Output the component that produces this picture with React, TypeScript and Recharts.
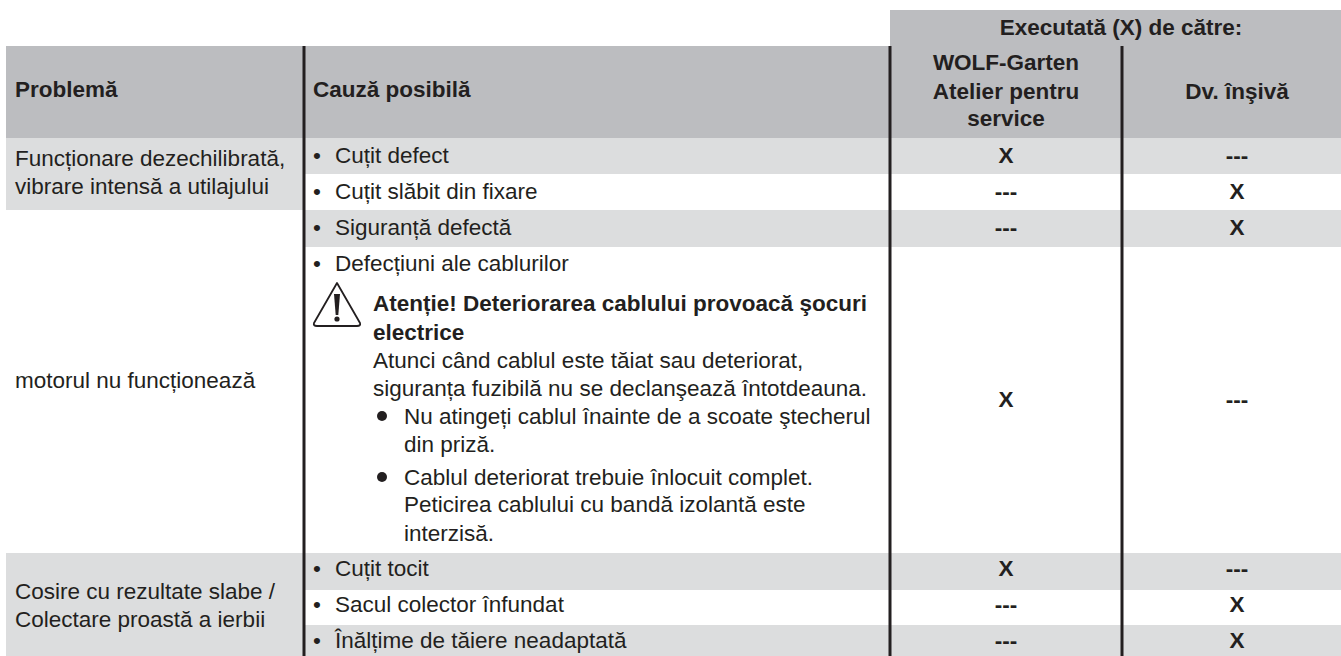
import { ScatterChart, Scatter, XAxis, YAxis, ReferenceArea, ReferenceLine } from "recharts";

const WIDTH = 1341;
const HEIGHT = 656;
const TEXT = "#231f20";
const HEAD = "#bcbdc0";
const SHADE = "#dcddde";

// Table outline (same units as the page)
const columnEdges = [6, 304, 890, 1122, 1341];
const headerTop = 46;
const headerBottom = 138;
const groupTop = 10;
const causeEdges = [138, 174, 210, 247, 553, 590, 625, 656];
const shadedCauses = [0, 2, 4, 6];

const problems = [
  { y: 158, text: "Funcționare dezechilibrată," },
  { y: 186, text: "vibrare intensă a utilajului" },
  { y: 380, text: "motorul nu funcționează" },
  { y: 591, text: "Cosire cu rezultate slabe /" },
  { y: 619, text: "Colectare proastă a ierbii" },
];
const shadedProblems = [
  [138, 210],
  [553, 656],
];

const causes = [
  "Cuțit defect",
  "Cuțit slăbit din fixare",
  "Siguranță defectă",
  "Defecțiuni ale cablurilor",
  "Cuțit tocit",
  "Sacul colector înfundat",
  "Înălțime de tăiere neadaptată",
];
const causeY = [155, 191, 227, 263, 568, 604, 640];
const byWorkshop = ["X", "---", "---", "X", "X", "---", "---"];
const byYourself = ["---", "X", "X", "---", "---", "X", "X"];
const markY = [155, 191, 227, 399, 568, 604, 640];

const warning = [
  { x: 373, y: 303, text: "Atenție! Deteriorarea cablului provoacă şocuri", bold: true },
  { x: 373, y: 332, text: "electrice", bold: true },
  { x: 373, y: 360, text: "Atunci când cablul este tăiat sau deteriorat," },
  { x: 373, y: 388, text: "siguranța fuzibilă nu se declanşează întotdeauna." },
  { x: 404, y: 416, text: "Nu atingeți cablul înainte de a scoate ştecherul" },
  { x: 404, y: 444, text: "din priză." },
  { x: 404, y: 477, text: "Cablul deteriorat trebuie înlocuit complet." },
  { x: 404, y: 504, text: "Peticirea cablului cu bandă izolantă este" },
  { x: 404, y: 533, text: "interzisă." },
];
const warningBullets = [416, 477];

const headers = [
  { x: 15, y: 89, text: "Problemă", anchor: "start" },
  { x: 313, y: 89, text: "Cauză posibilă", anchor: "start" },
  { x: 1006, y: 62, text: "WOLF-Garten", anchor: "middle" },
  { x: 1006, y: 91, text: "Atelier pentru", anchor: "middle" },
  { x: 1006, y: 118, text: "service", anchor: "middle" },
  { x: 1237, y: 91, text: "Dv. înşivă", anchor: "middle" },
  { x: 1121, y: 27, text: "Executată (X) de către:", anchor: "middle" },
];

const Label = ({ cx, cy, payload }: any) => (
  <text
    x={cx}
    y={cy}
    dy="0.35em"
    textAnchor={payload.anchor || "start"}
    fontFamily="Liberation Sans"
    fontSize={22.5}
    fontWeight={payload.bold ? 700 : 400}
    fill={TEXT}
  >
    {payload.text}
  </text>
);

const Dot = ({ cx, cy }: any) => <circle cx={cx} cy={cy} r={5} fill={TEXT} />;

const WarningSign = ({ cx, cy }: any) => (
  <g>
    <path
      d={`M${cx} ${cy - 22} L${cx + 23} ${cy + 18} Q${cx + 24} ${cy + 21} ${cx + 20} ${cy + 21} L${cx - 20} ${cy + 21} Q${cx - 24} ${cy + 21} ${cx - 23} ${cy + 18} Z`}
      fill="none"
      stroke={TEXT}
      strokeWidth={1.8}
      strokeLinejoin="round"
    />
    <path d={`M${cx - 3} ${cy - 11} L${cx + 3} ${cy - 11} L${cx + 1.3} ${cy + 10} L${cx - 1.3} ${cy + 10} Z`} fill={TEXT} />
    <circle cx={cx} cy={cy + 14} r={2.6} fill={TEXT} />
  </g>
);

const problemPoints = problems.map((p) => ({ x: 15, y: p.y, text: p.text }));
const bulletPoints = causeY.map((y) => ({ x: 313, y, text: "•" }));
const causePoints = causes.map((text, i) => ({ x: 335, y: causeY[i], text }));
const markPoints = markY.flatMap((y, i) => [
  { x: 1006, y, text: byWorkshop[i], anchor: "middle", bold: true },
  { x: 1237, y, text: byYourself[i], anchor: "middle", bold: true },
]);
const headerPoints = headers.map((h) => ({ ...h, bold: true }));
const textPoints = [...problemPoints, ...bulletPoints, ...causePoints, ...warning, ...markPoints, ...headerPoints];
const dotPoints = warningBullets.map((y) => ({ x: 382, y }));

export default function App() {
  return (
    <div style={{ position: "absolute", left: 0, top: 0, width: WIDTH, height: HEIGHT, background: "#fff" }}>
      <ScatterChart width={WIDTH} height={HEIGHT} margin={{ top: 0, right: 0, bottom: 0, left: 0 }}>
        <XAxis type="number" dataKey="x" domain={[0, WIDTH]} hide />
        <YAxis type="number" dataKey="y" domain={[0, HEIGHT]} reversed hide />
        <ReferenceArea x1={columnEdges[2]} x2={WIDTH} y1={groupTop} y2={headerTop} fill={HEAD} fillOpacity={1} stroke="none" />
        <ReferenceArea x1={columnEdges[0]} x2={WIDTH} y1={headerTop} y2={headerBottom} fill={HEAD} fillOpacity={1} stroke="none" />
        {shadedProblems.map(([y1, y2]) => (
          <ReferenceArea key={y1} x1={columnEdges[0]} x2={columnEdges[1]} y1={y1} y2={y2} fill={SHADE} fillOpacity={1} stroke="none" />
        ))}
        {shadedCauses.map((i) => (
          <ReferenceArea key={i} x1={columnEdges[1]} x2={WIDTH} y1={causeEdges[i]} y2={causeEdges[i + 1]} fill={SHADE} fillOpacity={1} stroke="none" />
        ))}
        {columnEdges.slice(1, 4).map((x) => (
          <ReferenceLine
            key={x}
            segment={[{ x, y: headerTop }, { x, y: HEIGHT }]}
            stroke={TEXT}
            strokeWidth={3}
          />
        ))}
        <Scatter data={textPoints} shape={Label} isAnimationActive={false} />
        <Scatter data={dotPoints} shape={Dot} isAnimationActive={false} />
        <Scatter data={[{ x: 337, y: 305 }]} shape={WarningSign} isAnimationActive={false} />
      </ScatterChart>
    </div>
  );
}
